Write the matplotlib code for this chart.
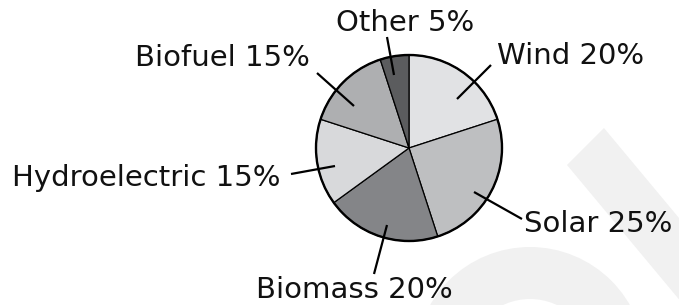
import matplotlib
matplotlib.use("Agg")
import matplotlib.pyplot as plt
from matplotlib.patches import Circle, Polygon, Wedge

# 数据
labels = ["Wind", "Solar", "Biomass", "Hydroelectric", "Biofuel", "Other"]
shares = [20, 25, 20, 15, 15, 5]
colors = ["#e1e2e4", "#bebfc1", "#848588", "#d8d9db", "#aeafb1", "#5b5c5e"]

# 标签位置 (像素坐标, y 向下): 文字锚点, 引线两端
text_pos = {
    "Wind": (497, 64, "left"),
    "Solar": (524, 232, "left"),
    "Biomass": (354, 298, "center"),
    "Hydroelectric": (12, 186, "left"),
    "Biofuel": (135, 66, "left"),
    "Other": (405, 31, "center"),
}
leader = {
    "Wind": ((457, 99), (491, 65)),
    "Solar": ((474, 192), (522, 219)),
    "Biomass": ((387, 225), (374, 274)),
    "Hydroelectric": ((335, 166), (291, 174)),
    "Biofuel": ((354, 106), (317, 73)),
    "Other": ((394, 75), (387, 37)),
}

W, H = 679, 305
center = (409, 148)
radius = 93

fig = plt.figure(figsize=(W / 100, H / 100), dpi=100)
ax = fig.add_axes([0, 0, 1, 1])

# 背景水印 (很淡)
wm = "#f1f1f1"
ax.add_patch(Polygon([(604, 128), (567, 165), (717, 345), (754, 308)],
                     closed=True, color=wm, lw=0, zorder=0))
ax.add_patch(Wedge((530, 362), 115, 180, 360, width=52, color=wm, lw=0, zorder=0))

# 饼图 (y轴反转, 所以逆时针=屏幕上的顺时针)
ax.pie(shares, colors=colors, startangle=-90, counterclock=True,
       center=center, radius=radius,
       wedgeprops=dict(edgecolor="black", linewidth=0.9, zorder=2))
ax.add_patch(Circle(center, radius, fill=False, ec="black", lw=1.7, zorder=3))

for lab, val in zip(labels, shares):
    x, y, ha = text_pos[lab]
    ax.text(x, y, f"{lab} {val}%", fontsize=21, ha=ha, va="baseline",
            color="#111111", zorder=4)
    (x0, y0), (x1, y1) = leader[lab]
    ax.plot([x0, x1], [y0, y1], color="black", lw=1.6, solid_capstyle="butt", zorder=4)

ax.set_xlim(0, W)
ax.set_ylim(H, 0)
ax.set_aspect("equal")
ax.axis("off")

fig.savefig("out.png", dpi=100, facecolor="white")
